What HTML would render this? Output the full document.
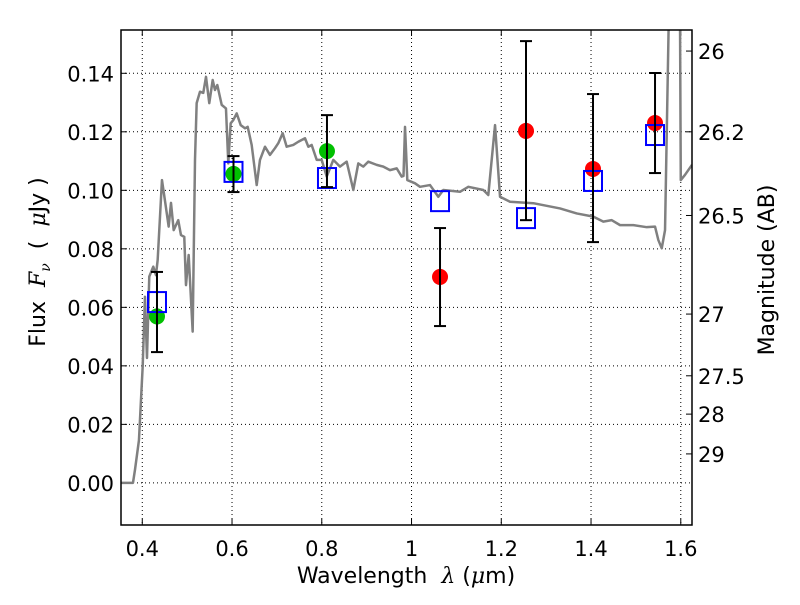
<!DOCTYPE html>
<html><head><meta charset="utf-8"><style>
body{margin:0;background:#fff;width:800px;height:600px;overflow:hidden;position:relative}
svg text{font-family:"DejaVu Sans","Liberation Sans",sans-serif;fill:#000}
</style></head><body>
<svg id="chart" width="800" height="600" xmlns="http://www.w3.org/2000/svg"></svg>
<script>
const xTicks=[0.4,0.6,0.8,1.0,1.2,1.4,1.6];
const xTickLabels=["0.4","0.6","0.8","1","1.2","1.4","1.6"];
const yTicks=[0,0.02,0.04,0.06,0.08,0.10,0.12,0.14];
const yTickLabels=["0.00","0.02","0.04","0.06","0.08","0.10","0.12","0.14"];
const magTickFlux=[0.1476,0.1200,0.0914,0.0577,0.0366,0.0235,0.0099];
const magTickLabels=["26","26.2","26.5","27","27.5","28","29"];
const specWl=[0.3525,0.3793,0.3837,0.3926,0.3971,0.4009,0.4060,0.4105,0.4156,0.4245,0.4305,0.4343,0.4439,0.4513,0.4588,0.4640,0.4700,0.4802,0.4862,0.4936,0.4974,0.5034,0.5123,0.5175,0.5212,0.5286,0.5359,0.5420,0.5493,0.5569,0.5620,0.5672,0.5770,0.5865,0.5917,0.5970,0.6028,0.6104,0.6193,0.6289,0.6349,0.6438,0.6550,0.6623,0.6735,0.6846,0.6957,0.7031,0.7129,0.7218,0.7365,0.7477,0.7626,0.7700,0.7775,0.7887,0.7998,0.8110,0.8257,0.8406,0.8555,0.8703,0.8814,0.8925,0.9037,0.9224,0.9371,0.9520,0.9670,0.9781,0.9821,0.9855,0.9906,1.0078,1.0189,1.0412,1.0597,1.0708,1.1080,1.1266,1.1600,1.1711,1.1861,1.1972,1.2195,1.2714,1.3309,1.3681,1.4051,1.4274,1.4461,1.4647,1.4943,1.5241,1.5426,1.5500,1.5576,1.5649,1.5780,1.5970,1.6000,1.6095,1.6250];
const specFlux=[0,0,0.0044,0.0146,0.0283,0.0397,0.0636,0.0427,0.0705,0.0739,0.0710,0.0762,0.1035,0.0957,0.0876,0.0957,0.0864,0.0898,0.0847,0.0841,0.0676,0.0779,0.0517,0.1104,0.1298,0.1337,0.1333,0.1388,0.1298,0.1377,0.1343,0.1360,0.1292,0.1280,0.1092,0.1229,0.1240,0.1263,0.1223,0.1212,0.1217,0.1155,0.1018,0.1104,0.1149,0.1121,0.1144,0.1161,0.1195,0.1149,0.1155,0.1166,0.1178,0.1149,0.1155,0.1104,0.1104,0.1047,0.1104,0.1081,0.1098,0.1001,0.1092,0.1081,0.1098,0.1087,0.1081,0.1069,0.1075,0.1047,0.1049,0.1217,0.1035,0.1024,0.1012,0.1018,0.0978,0.1001,0.0995,0.1012,0.1001,0.0984,0.1223,0.0978,0.0961,0.0956,0.0938,0.0921,0.0910,0.0893,0.0898,0.0881,0.0881,0.0874,0.0876,0.0830,0.0802,0.0864,0.2000,0.2000,0.1035,0.1053,0.1087];
const greenWl=[0.4328,0.6033,0.8116];
const greenFlux=[0.0569,0.1056,0.1134];
const greenErrHi=[0.0721,0.1117,0.1257];
const greenErrLo=[0.0447,0.0994,0.1011];
const redWl=[1.0635,1.2551,1.4044,1.5426];
const redFlux=[0.0704,0.1203,0.1073,0.1230];
const redErrHi=[0.0871,0.1510,0.1329,0.1401];
const redErrLo=[0.0536,0.0898,0.0823,0.1059];
const modelWl=[0.4328,0.6033,0.8116,1.0635,1.2551,1.4044,1.5426];
const modelFlux=[0.0618,0.1063,0.1042,0.0963,0.0905,0.1032,0.1189];

const L=121,R=692,T=30,B=525,X0=0.3526,X1=1.625,Y0=-0.0144,Y1=0.1548;
const sx=v=>L+(v-X0)/(X1-X0)*(R-L);
const sy=v=>B-(v-Y0)/(Y1-Y0)*(B-T);
const svg=document.getElementById('chart');
const NS='http://www.w3.org/2000/svg';
function mk(tag,attrs,parent){const e=document.createElementNS(NS,tag);for(const k in attrs)e.setAttribute(k,attrs[k]);(parent||svg).appendChild(e);return e;}

const defs=mk('defs',{});const cp=mk('clipPath',{id:'clip'},defs);mk('rect',{x:L,y:T,width:R-L,height:B-T},cp);

const grid=mk('g',{});


xTicks.forEach((v,i)=>{
 const x=sx(v);
 const g=mk('line',{x1:x,x2:x,y1:T,y2:B,stroke:'#000','stroke-width':1,'stroke-dasharray':'1,3'},grid);
 
 
 mk('line',{x1:x,x2:x,y1:B,y2:B-6,stroke:'#000'});
 mk('line',{x1:x,x2:x,y1:T,y2:T+6,stroke:'#000'});
 const t=mk('text',{x:x,y:B+31,'font-size':21,'text-anchor':'middle'});t.textContent=xTickLabels[i];
 
 
});
yTicks.forEach((v,i)=>{
 const y=sy(v);
 const g=mk('line',{x1:L,x2:R,y1:y,y2:y,stroke:'#000','stroke-width':1,'stroke-dasharray':'1,3'},grid);
 
 
 mk('line',{x1:L,x2:L+6,y1:y,y2:y,stroke:'#000'});
 const t=mk('text',{x:L-7,y:y+8,'font-size':21,'text-anchor':'end'});t.textContent=yTickLabels[i];
 
 
});
magTickFlux.forEach((v,i)=>{
 const y=sy(v);
 mk('line',{x1:R,x2:R-6,y1:y,y2:y,stroke:'#000'});
 const t=mk('text',{x:R+6,y:y+8,'font-size':21});t.textContent=magTickLabels[i];
 
 
});

const plot=mk('g',{'clip-path':'url(#clip)'});
const spec=mk('polyline',{points:specWl.map((w,i)=>sx(w)+','+sy(specFlux[i])).join(' '),fill:'none',stroke:'#808080','stroke-width':2.5,'stroke-linejoin':'round'},plot);



function errbar(w,lo,hi){
 const x=sx(w);
 const g=mk('g',{},plot);
 
 
 mk('line',{x1:x,x2:x,y1:sy(lo),y2:sy(hi),stroke:'#000','stroke-width':2},g);
 mk('line',{x1:x-6,x2:x+6,y1:sy(lo),y2:sy(lo),stroke:'#000','stroke-width':2},g);
 mk('line',{x1:x-6,x2:x+6,y1:sy(hi),y2:sy(hi),stroke:'#000','stroke-width':2},g);
}
greenWl.forEach((w,i)=>{
 const c=mk('circle',{cx:sx(w),cy:sy(greenFlux[i]),r:8,fill:'#00c000'},plot);
 
 
});
redWl.forEach((w,i)=>{
 const c=mk('circle',{cx:sx(w),cy:sy(redFlux[i]),r:8,fill:'#ff0000'},plot);
 
 
});
modelWl.forEach((w,i)=>{
 const r=mk('rect',{x:sx(w)-9,y:sy(modelFlux[i])-10,width:18,height:20,fill:'none',stroke:'#0000ff','stroke-width':2},plot);
 
 
});
greenWl.forEach((w,i)=>errbar(w,greenErrLo[i],greenErrHi[i]));
redWl.forEach((w,i)=>errbar(w,redErrLo[i],redErrHi[i]));

const frame=mk('rect',{x:L,y:T,width:R-L,height:B-T,fill:'none',stroke:'#000','stroke-width':1.5});


</script>
<svg style="position:absolute;left:0;top:0" width="800" height="600" xmlns="http://www.w3.org/2000/svg">
<text x="406" y="583" font-size="22" text-anchor="middle" font-family="DejaVu Sans, sans-serif">Wavelength&#160;&#160;<tspan font-style="italic" font-family="DejaVu Serif, serif">λ</tspan> (<tspan font-style="italic" font-family="DejaVu Serif, serif">μ</tspan>m)</text>
<text transform="translate(45,262) rotate(-90)" font-size="22" text-anchor="middle" font-family="DejaVu Sans, sans-serif">Flux&#160;&#160;<tspan font-style="italic" font-family="DejaVu Serif, serif">F<tspan font-size="14" dy="5">ν</tspan></tspan><tspan dy="-5">&#160;&#160;(&#160;&#160;</tspan><tspan font-style="italic" font-family="DejaVu Serif, serif">μ</tspan>Jy )</text>
<text transform="translate(774,270) rotate(-90)" font-size="22" text-anchor="middle" font-family="DejaVu Sans, sans-serif">Magnitude (AB)</text>
</svg>
</body></html>
